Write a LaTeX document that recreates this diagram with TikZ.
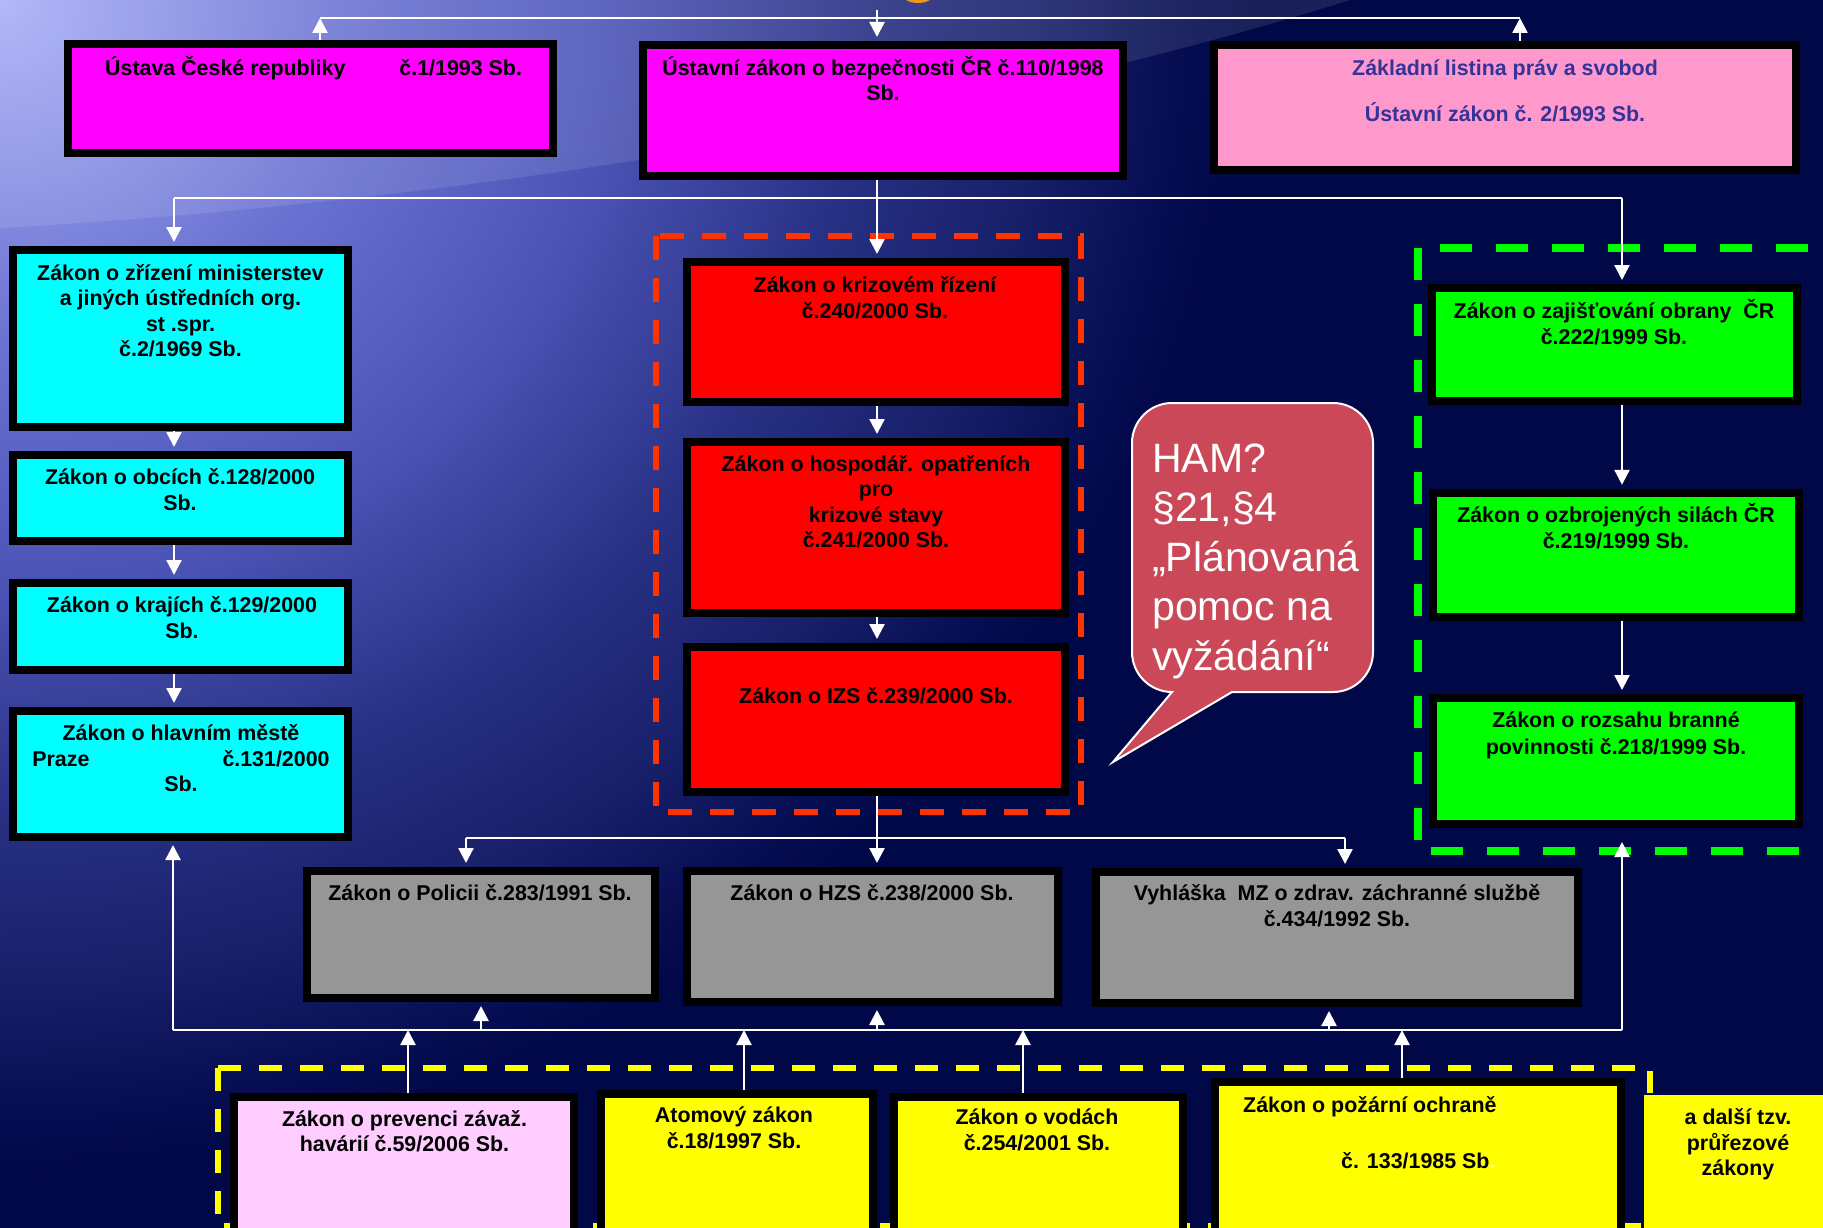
\documentclass[tikz,border=0pt]{standalone}
\usepackage{fontspec}
\setmainfont{Liberation Sans}
\usetikzlibrary{arrows.meta}
\definecolor{navy}{RGB}{1,8,72}
\definecolor{bgA}{RGB}{170,176,248}
\definecolor{bgB}{RGB}{104,112,208}
\definecolor{bgC}{RGB}{76,84,182}
\definecolor{bgD}{RGB}{40,48,132}
\definecolor{bgE}{RGB}{24,32,106}
\definecolor{bgF}{RGB}{5,12,80}
\definecolor{magentaF}{RGB}{255,0,255}
\definecolor{pinkF}{RGB}{255,153,204}
\definecolor{pinktext}{RGB}{51,51,153}
\definecolor{cyanF}{RGB}{0,255,255}
\definecolor{redF}{RGB}{255,0,0}
\definecolor{redframe}{RGB}{255,51,0}
\definecolor{greenF}{RGB}{0,255,0}
\definecolor{greyF}{RGB}{150,150,150}
\definecolor{yellowF}{RGB}{255,255,0}
\definecolor{lilacF}{RGB}{255,204,255}
\definecolor{bubbleF}{RGB}{202,72,88}
\definecolor{orangeF}{RGB}{240,150,30}
\pgfdeclareradialshading{bgshade}{\pgfpoint{0bp}{0bp}}{color(0bp)=(bgA); color(7.5bp)=(bgB); color(12.25bp)=(bgC); color(17.25bp)=(bgD); color(20.75bp)=(bgE); color(23.75bp)=(bgF); color(25bp)=(navy); color(50bp)=(navy)}
\pgfdeclarelayer{back}
\pgfdeclarelayer{lines}
\pgfsetlayers{back,lines,main}
\tikzset{
  box/.style={draw=black, line width=8pt, inner sep=0pt, rectangle},
  lbl/.style={font=\bfseries\fontsize{21.4}{25.5}\selectfont, align=center, inner sep=0pt, anchor=base, text=black},
  conn/.style={draw=white, line width=2.4pt},
  arr/.style={conn, -{Triangle[width=15pt,length=15pt]}, shorten >=4pt},
  arrl/.style={conn, -{Triangle[width=15pt,length=15pt]}},
  frame/.style={line width=6pt},
}
\begin{document}
\begin{tikzpicture}[x=1pt,y=-1pt]
\useasboundingbox (0,0) rectangle (1823,1228);
\clip (0,0) rectangle (1823,1228);
\begin{pgfonlayer}{back}
  \fill[navy] (0,0) rectangle (1823,1228);
  \shade[shading=bgshade] (0,0) ellipse [x radius=1250, y radius=1180];
  \fill[white, opacity=0.1] (0,0) -- (0,228) .. controls (500,200) and (1000,110) .. (1350,0) -- cycle;
  \fill[orangeF] (918,-6) ellipse [x radius=16, y radius=9];
  \draw[frame, redframe, dash pattern=on 24pt off 18pt] (656,236) rectangle (1081,812);
  \draw[line width=8pt, greenF, dash pattern=on 32pt off 24pt] (1418,248) rectangle (1850,851);
  \draw[frame, yellowF, dash pattern=on 23pt off 18pt] (218,1068) rectangle (1650,1226);
\end{pgfonlayer}

% top row
\node[box, fill=magentaF, minimum width=485, minimum height=109] (A) at (310.5,98.5) {};
\node[box, fill=magentaF, minimum width=480, minimum height=131] (B) at (883,110.5) {};
\node[box, fill=pinkF, minimum width=582, minimum height=125] (C) at (1505,107.5) {};
\node[lbl, anchor=base west] (tA) at (105,76) {Ústava České republiky\hspace{54pt}č.1/1993 Sb.};
\node[lbl] (tB) at (883,101) {Ústavní zákon o bezpečnosti ČR č.110/1998\\Sb.};
\node[lbl, text=pinktext] (tC1) at (1505,76) {Základní listina práv a svobod};
\node[lbl, text=pinktext] (tC2) at (1505,121.7) {Ústavní zákon č. 2/1993 Sb.};

% left column
\node[box, fill=cyanF, minimum width=335, minimum height=177] (C1) at (180.5,338.5) {};
\node[box, fill=cyanF, minimum width=335, minimum height=86] (C2) at (180.5,498) {};
\node[box, fill=cyanF, minimum width=335, minimum height=87] (C3) at (180.5,626.5) {};
\node[box, fill=cyanF, minimum width=335, minimum height=126] (C4) at (180.5,774) {};
\node[lbl] (tC1a) at (180.5,356.5) {Zákon o zřízení ministerstev\\a jiných ústředních org.\\st .spr.\\č.2/1969 Sb.};
\node[lbl] (tC2a) at (180,510) {Zákon o obcích č.128/2000\\Sb.};
\node[lbl] (tC3a) at (182,638) {Zákon o krajích č.129/2000\\Sb.};
\node[lbl] (tC4a) at (181,791.5) {Zákon o hlavním městě\\Praze\hspace{133pt}č.131/2000\\Sb.};

% red column
\node[box, fill=redF, minimum width=378, minimum height=140] (R1) at (876,332) {};
\node[box, fill=redF, minimum width=378, minimum height=171] (R2) at (876,527.5) {};
\node[box, fill=redF, minimum width=378, minimum height=145] (R3) at (876,719.5) {};
\node[lbl] (tR1) at (875,318) {Zákon o krizovém řízení\\č.240/2000 Sb.};
\node[lbl] (tR2) at (876,547.7) {Zákon o hospodář. opatřeních\\pro\\krizové stavy\\č.241/2000 Sb.};
\node[lbl] (tR3) at (876,703) {Zákon o IZS č.239/2000 Sb.};

% green column
\node[box, fill=greenF, minimum width=365, minimum height=113] (Gr1) at (1614.5,344.5) {};
\node[box, fill=greenF, minimum width=366, minimum height=124] (Gr2) at (1616,554.75) {};
\node[box, fill=greenF, minimum width=366, minimum height=126] (Gr3) at (1616,761) {};
\node[lbl] (tGr1) at (1614,344) {Zákon o zajišťování obrany\ \ ČR\\č.222/1999 Sb.};
\node[lbl] (tGr2) at (1616,548.4) {Zákon o ozbrojených silách ČR\\č.219/1999 Sb.};
\node[lbl] (tGr3) at (1616,754.5) {Zákon o rozsahu branné\\[1.5pt]povinnosti č.218/1999 Sb.};

% grey row
\node[box, fill=greyF, minimum width=348, minimum height=127] (G1) at (481,934.5) {};
\node[box, fill=greyF, minimum width=371, minimum height=131] (G2) at (872.5,936.5) {};
\node[box, fill=greyF, minimum width=482, minimum height=131] (G3) at (1337,937.5) {};
\node[lbl] (tG1) at (480,900) {Zákon o Policii č.283/1991 Sb.};
\node[lbl] (tG2) at (872,900) {Zákon o HZS č.238/2000 Sb.};
\node[lbl] (tG3) at (1337,926.7) {Vyhláška\ \ MZ o zdrav. záchranné službě\\[1pt]č.434/1992 Sb.};

% yellow row
\node[box, fill=lilacF, minimum width=340, minimum height=149] (Y1) at (404,1171.5) {};
\node[box, fill=yellowF, minimum width=272, minimum height=152] (Y2) at (737,1170) {};
\node[box, fill=yellowF, minimum width=289, minimum height=149] (Y3) at (1038.5,1171.5) {};
\node[box, fill=yellowF, minimum width=406, minimum height=164] (Y4) at (1418,1164) {};
\node[box, draw=navy, line width=2pt, fill=yellowF, minimum width=196, minimum height=155] (Y5) at (1741,1171.5) {};
\node[lbl] (tY1) at (404.5,1151.7) {Zákon o prevenci závaž.\\havárií č.59/2006 Sb.};
\node[lbl] (tY2) at (734,1148) {Atomový zákon\\č.18/1997 Sb.};
\node[lbl] (tY3) at (1037,1150) {Zákon o vodách\\č.254/2001 Sb.};
\node[lbl, anchor=base west] (tY4a) at (1243,1112) {Zákon o požární ochraně};
\node[lbl, anchor=base west] (tY4b) at (1341,1168) {č. 133/1985 Sb\textcolor{white}{.}};
\node[lbl] (tY5) at (1738,1175.5) {a další tzv.\\průřezové\\zákony};

% speech bubble
\draw[white, line width=2pt, fill=bubbleF] (1172,692) -- (1113,762) -- (1232,692) -- (1333,692)
  .. controls (1355,692) and (1373,674) .. (1373,652) -- (1373,443)
  .. controls (1373,421) and (1355,403) .. (1333,403) -- (1172,403)
  .. controls (1150,403) and (1132,421) .. (1132,443) -- (1132,652)
  .. controls (1132,674) and (1150,692) .. (1172,692) -- cycle;
\node[font=\fontsize{41}{49.5}\selectfont, text=white, align=left, inner sep=0pt, anchor=base west] (bub) at (1152,670) {HAM?\\§21,§4\\„Plánovaná\\pomoc na\\vyžádání“};

% connectors
\begin{pgfonlayer}{lines}
  \coordinate (t0) at (877,10);
  \coordinate (tl) at (320,18);
  \coordinate (tr) at (1520,18);
  \draw[conn] (tl) -- (tr);
  \draw[arrl] (tl |- A.north) -- (tl);
  \draw[arrl] (tr |- C.north) -- (tr);
  \draw[arr] (t0) -- (t0 |- B.north);

  \coordinate (s0) at (877,198);
  \coordinate (sl) at (174,198);
  \coordinate (sr) at (1622,198);
  \draw[conn] (sl) -- (sr);
  \draw[arr] (B.south -| s0) -- (s0 |- R1.north);
  \draw[arr] (sl) -- (sl |- C1.north);
  \draw[arr] (sr) -- (sr |- Gr1.north);
  \draw[arr] (C1.south -| sl) -- (sl |- C2.north);
  \draw[arr] (C2.south -| sl) -- (sl |- C3.north);
  \draw[arr] (C3.south -| sl) -- (sl |- C4.north);
  \draw[arr] (R1.south -| s0) -- (s0 |- R2.north);
  \draw[arr] (R2.south -| s0) -- (s0 |- R3.north);
  \draw[arr] (Gr1.south -| sr) -- (sr |- Gr2.north);
  \draw[arr] (Gr2.south -| sr) -- (sr |- Gr3.north);

  \coordinate (m0) at (877,838);
  \coordinate (ml) at (466,838);
  \coordinate (mr) at (1345,838);
  \draw[conn] (R3.south -| m0) -- (m0);
  \draw[conn] (ml) -- (mr);
  \draw[arr] (ml) -- (ml |- G1.north);
  \draw[arr] (m0) -- (m0 |- G2.north);
  \draw[arr] (mr) -- (mr |- G3.north);

  \coordinate (bl) at (173,1030);
  \coordinate (br) at (1622,1030);
  \coordinate (b1) at (481,1030);
  \coordinate (b2) at (877,1030);
  \coordinate (b3) at (1329,1030);
  \draw[conn] (bl) -- (br);
  \draw[arr] (bl) -- (bl |- C4.south);
  \draw[arr] (b1) -- (b1 |- G1.south);
  \draw[arr] (b2) -- (b2 |- G2.south);
  \draw[arr] (b3) -- (b3 |- G3.south);
  \draw[arr, shorten >=14pt] (br) -- (br |- Gr3.south);

  \coordinate (y1) at (408,1030);
  \coordinate (y2) at (744,1030);
  \coordinate (y3) at (1023,1030);
  \coordinate (y4) at (1402,1030);
  \draw[arrl] (y1 |- Y1.north) -- (y1);
  \draw[arrl] (y2 |- Y2.north) -- (y2);
  \draw[arrl] (y3 |- Y3.north) -- (y3);
  \draw[arrl] (y4 |- Y4.north) -- (y4);
\end{pgfonlayer}
\end{tikzpicture}
\end{document}
